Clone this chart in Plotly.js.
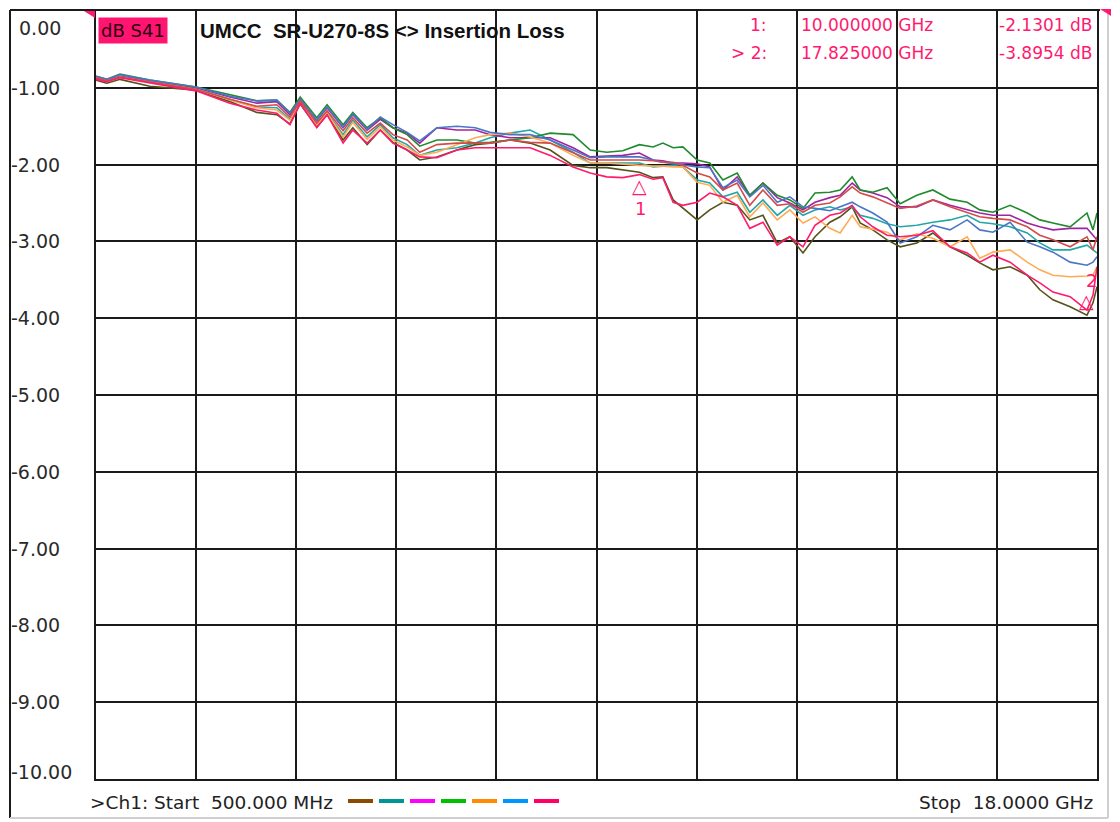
<!DOCTYPE html>
<html>
<head>
<meta charset="utf-8">
<script src="https://cdn.plot.ly/plotly-3.0.1.min.js"></script>
<style>html,body{margin:0;padding:0;background:#fff;}#chart{width:1120px;height:822px;}</style>
</head>
<body>
<div id="chart"></div>
<script>
// Frequencies (GHz)
const freqGHz = [0.50, 0.69, 0.92, 1.44, 2.25, 2.84, 3.31, 3.66, 3.89, 4.07, 4.36, 4.54, 4.82, 4.99, 5.24, 5.47, 5.69, 5.94, 6.16, 6.46, 6.81, 7.13, 7.39, 7.74, 8.09, 8.44, 8.84, 9.14, 9.43, 9.71, 10.00, 10.24, 10.41, 10.59, 10.76, 11.01, 11.23, 11.46, 11.71, 11.93, 12.16, 12.41, 12.63, 12.86, 13.07, 13.33, 13.51, 13.72, 13.86, 14.08, 14.33, 14.56, 14.85, 15.13, 15.43, 15.73, 15.95, 16.18, 16.48, 16.78, 17.00, 17.23, 17.53, 17.825, 17.93, 18.00];

// Insertion loss (dB, shown negative)
const lossOlive = [0.90, 0.94, 0.89, 0.98, 1.03, 1.18, 1.32, 1.35, 1.47, 1.21, 1.51, 1.35, 1.68, 1.52, 1.74, 1.55, 1.71, 1.81, 1.94, 1.90, 1.81, 1.74, 1.72, 1.68, 1.72, 1.81, 2.01, 2.04, 2.04, 2.07, 2.10, 2.17, 2.16, 2.46, 2.57, 2.72, 2.59, 2.49, 2.53, 2.72, 2.66, 3.02, 2.94, 3.15, 2.94, 2.75, 2.68, 2.55, 2.76, 2.85, 2.98, 3.07, 3.02, 2.89, 3.07, 3.18, 3.28, 3.37, 3.33, 3.44, 3.63, 3.76, 3.85, 3.96, 3.80, 3.59];
const lossTeal = [0.87, 0.91, 0.86, 0.92, 1.02, 1.15, 1.25, 1.26, 1.41, 1.18, 1.47, 1.32, 1.61, 1.42, 1.64, 1.48, 1.65, 1.74, 1.88, 1.81, 1.78, 1.72, 1.65, 1.59, 1.55, 1.68, 1.84, 1.98, 1.98, 1.98, 1.98, 2.03, 2.02, 2.01, 2.03, 2.20, 2.24, 2.42, 2.36, 2.62, 2.46, 2.66, 2.53, 2.66, 2.59, 2.55, 2.59, 2.55, 2.66, 2.70, 2.77, 2.81, 2.79, 2.75, 2.72, 2.66, 2.75, 2.77, 2.81, 2.89, 3.02, 3.11, 3.11, 3.05, 3.11, 3.15];
const lossPurple = [0.86, 0.90, 0.85, 0.91, 1.00, 1.12, 1.20, 1.18, 1.35, 1.15, 1.43, 1.26, 1.52, 1.35, 1.55, 1.41, 1.52, 1.59, 1.72, 1.52, 1.55, 1.55, 1.61, 1.65, 1.65, 1.65, 1.78, 1.90, 1.89, 1.88, 1.85, 1.94, 1.95, 1.98, 1.98, 1.99, 2.03, 2.33, 2.16, 2.40, 2.24, 2.43, 2.50, 2.59, 2.49, 2.43, 2.40, 2.24, 2.33, 2.37, 2.43, 2.55, 2.55, 2.46, 2.53, 2.59, 2.63, 2.66, 2.66, 2.76, 2.81, 2.85, 2.83, 2.83, 2.92, 2.98];
const lossGreen = [0.85, 0.89, 0.82, 0.90, 0.99, 1.09, 1.17, 1.16, 1.32, 1.12, 1.39, 1.22, 1.48, 1.32, 1.52, 1.39, 1.52, 1.61, 1.76, 1.68, 1.68, 1.72, 1.71, 1.68, 1.65, 1.59, 1.61, 1.81, 1.84, 1.82, 1.74, 1.77, 1.72, 1.78, 1.77, 1.94, 1.98, 2.20, 2.11, 2.40, 2.24, 2.40, 2.46, 2.57, 2.37, 2.36, 2.33, 2.16, 2.33, 2.36, 2.30, 2.51, 2.40, 2.33, 2.45, 2.49, 2.59, 2.62, 2.53, 2.63, 2.72, 2.76, 2.81, 2.63, 2.85, 2.63];
const lossOrange = [0.87, 0.91, 0.86, 0.92, 1.02, 1.16, 1.26, 1.29, 1.42, 1.20, 1.48, 1.33, 1.64, 1.45, 1.67, 1.51, 1.68, 1.77, 1.88, 1.84, 1.74, 1.65, 1.61, 1.59, 1.64, 1.72, 1.88, 1.98, 1.98, 1.99, 2.01, 2.02, 2.02, 2.03, 2.03, 2.23, 2.27, 2.49, 2.40, 2.68, 2.50, 2.72, 2.59, 2.76, 2.68, 2.83, 2.89, 2.66, 2.81, 2.84, 2.88, 2.98, 2.90, 2.96, 3.07, 2.94, 3.22, 3.14, 3.11, 3.27, 3.37, 3.44, 3.46, 3.45, 3.44, 3.33];
const lossBlue = [0.85, 0.89, 0.83, 0.90, 0.99, 1.11, 1.17, 1.16, 1.33, 1.15, 1.42, 1.25, 1.51, 1.34, 1.54, 1.38, 1.48, 1.58, 1.69, 1.52, 1.50, 1.52, 1.58, 1.61, 1.61, 1.68, 1.81, 1.91, 1.90, 1.90, 1.90, 1.94, 1.97, 1.99, 2.01, 2.03, 2.04, 2.30, 2.20, 2.42, 2.27, 2.49, 2.42, 2.55, 2.57, 2.60, 2.55, 2.49, 2.55, 2.63, 2.75, 3.02, 2.94, 2.79, 2.85, 2.72, 2.85, 2.88, 2.75, 3.01, 3.07, 3.14, 3.27, 3.31, 3.27, 3.20];
const lossRed = [0.87, 0.91, 0.86, 0.92, 1.02, 1.15, 1.24, 1.22, 1.38, 1.17, 1.46, 1.30, 1.56, 1.39, 1.59, 1.46, 1.61, 1.68, 1.84, 1.74, 1.72, 1.72, 1.72, 1.68, 1.71, 1.72, 1.84, 1.94, 1.94, 1.94, 1.94, 1.95, 1.97, 1.97, 2.01, 2.11, 2.16, 2.33, 2.24, 2.53, 2.33, 2.53, 2.51, 2.62, 2.53, 2.50, 2.42, 2.29, 2.37, 2.42, 2.50, 2.57, 2.54, 2.46, 2.55, 2.63, 2.68, 2.70, 2.72, 2.81, 2.92, 2.98, 3.07, 2.94, 3.11, 2.94];
const lossPink = [0.89, 0.92, 0.87, 0.94, 1.04, 1.20, 1.29, 1.33, 1.48, 1.20, 1.52, 1.35, 1.72, 1.55, 1.72, 1.55, 1.72, 1.81, 1.90, 1.91, 1.81, 1.78, 1.78, 1.78, 1.78, 1.88, 2.03, 2.11, 2.16, 2.17, 2.1301, 2.19, 2.17, 2.49, 2.53, 2.49, 2.37, 2.42, 2.53, 2.83, 2.75, 3.05, 2.94, 3.07, 2.79, 2.66, 2.63, 2.53, 2.68, 2.81, 2.92, 2.94, 2.92, 2.86, 3.07, 3.15, 3.27, 3.18, 3.27, 3.44, 3.54, 3.66, 3.72, 3.8954, 3.70, 3.33];

const seriesLoss = [lossOlive, lossTeal, lossPurple, lossGreen, lossOrange, lossBlue, lossRed, lossPink];
const seriesColors = ['#55531a', '#22a6a6', '#a023a0', '#1f8a2e', '#ffab55', '#4a76c4', '#d24c4c', '#ff1a6c'];

// Markers
const markerNames = ['1', '2'];
const markerFreq = [10.0, 17.825];
const markerVal = [-2.1301, -3.8954];
const markerLabelSide = ['below', 'above'];

// Axis ticks
const yTickVals = [0, -1, -2, -3, -4, -5, -6, -7, -8, -9, -10];
const yTickLabels = ['0.00', '-1.00', '-2.00', '-3.00', '-4.00', '-5.00', '-6.00', '-7.00', '-8.00', '-9.00', '-10.00'];
const startFreqMHz = 500;
const stopFreqGHz = 18;

// Legend swatch colours
const legendColors = ['#8a4a00', '#009696', '#ff00ff', '#00c000', '#ff8c00', '#0096ff', '#ff0066'];

const pink = '#ff1a70';
const traces = seriesLoss.map((arr, i) => ({
  type: 'scatter', mode: 'lines',
  x: freqGHz, y: arr.map(v => -v),
  line: {color: seriesColors[i], width: 1.6},
  hoverinfo: 'skip'
}));

// pixel helpers for decorations (plot area: x 96..1097, y 11..779)
const px = X => (X - 96) / 1001;
const py = Y => (779 - Y) / 768;

const annotations = [];
yTickVals.forEach((v, i) => {
  annotations.push({
    xref: 'paper', yref: 'y', x: px(9), y: v, xanchor: 'left',
    yanchor: v === 0 ? 'top' : (v === -10 ? 'bottom' : 'middle'),
    yshift: v === 0 ? -4 : (v === -10 ? -6 : 0),
    xshift: v >= 0 ? 8 : 0,
    text: yTickLabels[i], showarrow: false,
    font: {family: 'DejaVu Sans', size: 19, color: '#2a2a2a'}
  });
});
// marker glyphs
markerNames.forEach((m, i) => {
  const below = markerLabelSide[i] === 'below';
  annotations.push({
    xref: 'x', yref: 'y', x: markerFreq[i], y: markerVal[i],
    xanchor: 'center', yanchor: below ? 'top' : 'bottom', yshift: below ? 2 : -4,
    text: '\u25B3', showarrow: false, font: {family: 'DejaVu Sans', size: 19, color: pink}
  });
  annotations.push({
    xref: 'x', yref: 'y', x: markerFreq[i], y: markerVal[i],
    xanchor: 'center', yanchor: below ? 'top' : 'bottom', yshift: below ? -21 : 17, xshift: below ? 1 : 5,
    text: m, showarrow: false, font: {family: 'DejaVu Sans', size: 18, color: pink}
  });
});
annotations.push({
  xref: 'paper', yref: 'paper', x: px(98), y: py(30.5), xanchor: 'left', yanchor: 'middle',
  text: 'dB S41', showarrow: false, bgcolor: '#ff1470', borderpad: 2,
  font: {family: 'DejaVu Sans', size: 18, color: '#2a0010'}
});
annotations.push({
  xref: 'paper', yref: 'paper', x: px(198), y: py(30), xanchor: 'left', yanchor: 'middle',
  text: '<b>UMCC  SR-U270-8S &lt;&gt; Insertion Loss</b>', showarrow: false,
  font: {family: 'Liberation Sans, Arial', size: 20.5, color: '#111'}
});
markerNames.forEach((m, i) => {
  const yy = py(i === 0 ? 25 : 53);
  annotations.push({xref: 'paper', yref: 'paper', x: px(769), y: yy, xanchor: 'right', yanchor: 'middle',
    text: (i === 1 ? '&gt; ' : '') + m + ':', showarrow: false, font: {family: 'DejaVu Sans', size: 17, color: pink}});
  annotations.push({xref: 'paper', yref: 'paper', x: px(799), y: yy, xanchor: 'left', yanchor: 'middle',
    text: markerFreq[i].toFixed(6) + ' GHz', showarrow: false, font: {family: 'DejaVu Sans', size: 17, color: pink}});
  annotations.push({xref: 'paper', yref: 'paper', x: px(1094), y: yy, xanchor: 'right', yanchor: 'middle',
    text: markerVal[i].toFixed(4) + ' dB', showarrow: false, font: {family: 'DejaVu Sans', size: 17, color: pink}});
});
annotations.push({
  xref: 'paper', yref: 'paper', x: px(88), y: py(802), xanchor: 'left', yanchor: 'middle',
  text: '&gt;Ch1: Start  ' + startFreqMHz.toFixed(3) + ' MHz', showarrow: false,
  font: {family: 'DejaVu Sans', size: 18.5, color: '#222'}
});
annotations.push({
  xref: 'paper', yref: 'paper', x: px(1095), y: py(802), xanchor: 'right', yanchor: 'middle',
  text: 'Stop  ' + stopFreqGHz.toFixed(4) + ' GHz', showarrow: false,
  font: {family: 'DejaVu Sans', size: 18.5, color: '#222'}
});

const shapes = [
  {type: 'line', xref: 'paper', yref: 'paper', x0: px(10), x1: px(10), y0: py(10), y1: py(818), line: {color: '#1a1a1a', width: 2}},
  {type: 'line', xref: 'paper', yref: 'paper', x0: px(10), x1: px(1100), y0: py(10), y1: py(10), line: {color: '#1a1a1a', width: 2}},
  {type: 'line', xref: 'paper', yref: 'paper', x0: px(1108), x1: px(1108), y0: py(10), y1: py(818), line: {color: '#cfcfcf', width: 2}},
  {type: 'line', xref: 'paper', yref: 'paper', x0: px(10), x1: px(1108), y0: py(818), y1: py(818), line: {color: '#cfcfcf', width: 2}},
  {type: 'path', xref: 'paper', yref: 'paper',
   path: `M ${px(84)} ${py(11)} L ${px(95)} ${py(11)} L ${px(95)} ${py(18)} Z`, fillcolor: pink, line: {width: 0}},
  {type: 'path', xref: 'paper', yref: 'paper',
   path: `M ${px(1100)} ${py(9)} L ${px(1111)} ${py(9)} L ${px(1111)} ${py(16)} Z`, fillcolor: pink, line: {width: 0}}
];
legendColors.forEach((c, i) => {
  const x0 = 348 + i * 31;
  shapes.push({type: 'line', xref: 'paper', yref: 'paper', x0: px(x0), x1: px(x0 + 25), y0: py(801), y1: py(801),
    line: {color: c, width: 4}});
});

const layout = {
  width: 1120, height: 822,
  margin: {l: 96, r: 23, t: 11, b: 43},
  paper_bgcolor: '#ffffff', plot_bgcolor: '#ffffff',
  showlegend: false,
  xaxis: {range: [0.5, 18], tick0: 0.5, dtick: 1.75, showgrid: true, gridcolor: '#1a1a1a', gridwidth: 2,
    showticklabels: false, ticks: '', zeroline: false, showline: true, mirror: true, linecolor: '#1a1a1a', linewidth: 2},
  yaxis: {range: [-10, 0], tick0: 0, dtick: 1, showgrid: true, gridcolor: '#1a1a1a', gridwidth: 2,
    showticklabels: false, ticks: '', zeroline: false, showline: true, mirror: true, linecolor: '#1a1a1a', linewidth: 2},
  annotations: annotations,
  shapes: shapes
};

Plotly.newPlot('chart', traces, layout, {staticPlot: true, displayModeBar: false});
</script>
</body>
</html>
